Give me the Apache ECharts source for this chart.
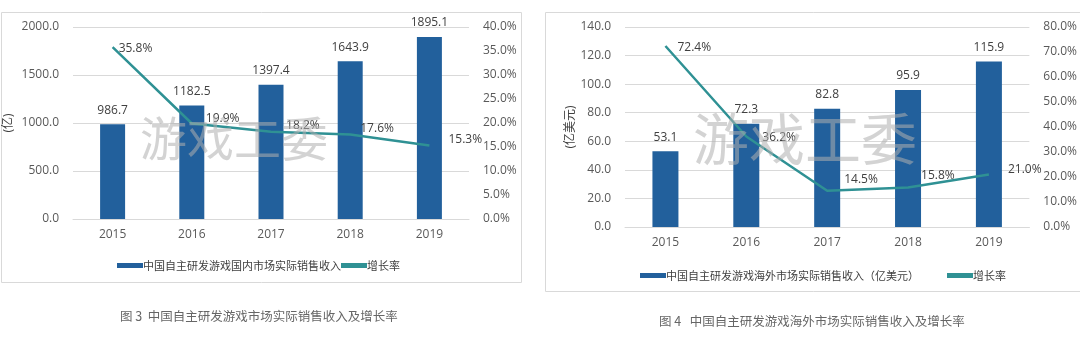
<!DOCTYPE html>
<html><head><meta charset="utf-8">
<script src="https://cdn.jsdelivr.net/npm/echarts@6/dist/echarts.min.js"></script>
<style>html,body{margin:0;padding:0;background:#fff}#c{width:1080px;height:340px}</style>
</head><body><div id="c"></div>
<script>
const categories = ['2015','2016','2017','2018','2019'];
const domesticRevenue = [986.7, 1182.5, 1397.4, 1643.9, 1895.1];
const domesticGrowth = [35.8, 19.9, 18.2, 17.6, 15.3];
const overseasRevenue = [53.1, 72.3, 82.8, 95.9, 115.9];
const overseasGrowth = [72.4, 36.2, 14.5, 15.8, 21.0];
const domesticBarName = '中国自主研发游戏国内市场实际销售收入';
const overseasBarName = '中国自主研发游戏海外市场实际销售收入（亿美元）';
const growthName = '增长率';
const caption3 = '图 3  中国自主研发游戏市场实际销售收入及增长率';
const caption4 = '图 4   中国自主研发游戏海外市场实际销售收入及增长率';
const watermark = '游戏工委';

const BAR = '#22609c', LINE = '#2f9194', TXT = '#404040', AX = '#595959';
const FONT = '"Open Sans","Noto Sans CJK SC",sans-serif';
const CJK = '"Noto Sans CJK SC",sans-serif';
const chart = echarts.init(document.getElementById('c'), null, {renderer:'canvas'});

function yAx(gridIndex, max, interval, fmt, pos, name, nameGap, showSplit){
  return {type:'value', gridIndex, min:0, max, interval, position:pos,
    name: name || '', nameLocation:'middle', nameGap: nameGap || 0, nameRotate: 90,
    nameTextStyle:{color:TXT, fontSize:12, fontFamily:FONT},
    axisLine:{show:false}, axisTick:{show:false},
    axisLabel:{color:AX, fontSize:12, fontFamily:FONT, formatter:fmt, margin:14},
    splitLine:{show:showSplit, lineStyle:{color:'#d9d9d9', width:1}}};
}
const leftFmt = v => v.toFixed(1);
const pctFmt = v => v.toFixed(1) + '%';
function lineSeries(name, xi, yi, data, offsets){
  return {name, type:'line', xAxisIndex:xi, yAxisIndex:yi, symbol:'circle', symbolSize:0.1, showSymbol:true,
    data: data.map((v,i)=>({value:v, label:{offset:offsets[i]}})),
    lineStyle:{color:LINE, width:2.5}, itemStyle:{color:LINE},
    label:{show:true, position:'right', distance:5, color:TXT, fontSize:12, fontFamily:FONT, formatter:p=>p.value.toFixed(1)+'%'}};
}

const option = {
  animation:false,
  textStyle:{fontFamily:FONT},
  grid:[
    {left:73, right:1080-469, top:27, bottom:340-219},
    {left:625, right:1080-1033, top:27, bottom:340-227}
  ],
  xAxis:[
    {type:'category', gridIndex:0, data:categories, axisLine:{lineStyle:{color:'#d9d9d9'}}, axisTick:{show:false},
     axisLabel:{color:AX, fontSize:12, fontFamily:FONT, margin:10}},
    {type:'category', gridIndex:1, data:categories, axisLine:{lineStyle:{color:'#d9d9d9'}}, axisTick:{show:false},
     axisLabel:{color:AX, fontSize:12, fontFamily:FONT, margin:10}}
  ],
  yAxis:[
    yAx(0, 2000, 500, leftFmt, 'left', '(亿)', 58, true),
    yAx(0, 40, 5, pctFmt, 'right', '', 0, false),
    yAx(1, 140, 20, leftFmt, 'left', '(亿美元)', 46, true),
    yAx(1, 80, 10, pctFmt, 'right', '', 0, false)
  ],
  legend:[
    {left:112, top:255, itemGap:0, itemWidth:26, itemHeight:5, icon:'rect',
     textStyle:{color:TXT, fontSize:11, fontFamily:CJK, padding:[0,0,0,-5]},
     data:[{name:domesticBarName, icon:'rect'}, {name:growthName+' ', icon:'rect', itemStyle:{color:LINE}}]},
    {left:635, top:265, itemGap:28, itemWidth:26, itemHeight:5, icon:'rect',
     textStyle:{color:TXT, fontSize:11, fontFamily:CJK, padding:[0,0,0,-5]},
     data:[{name:overseasBarName, icon:'rect'}, {name:growthName, icon:'rect', itemStyle:{color:LINE}}]}
  ],
  series:[
    {name:domesticBarName, type:'bar', xAxisIndex:0, yAxisIndex:0, data:domesticRevenue, barWidth:25,
     itemStyle:{color:BAR}, label:{show:true, position:'top', distance:8, color:TXT, fontSize:12, formatter:p=>p.value.toFixed(1)}},
    lineSeries(growthName+' ', 0, 1, domesticGrowth, [[1,1],[9,-5],[10,-6],[5,-6],[14,-6]]),
    {name:overseasBarName, type:'bar', xAxisIndex:1, yAxisIndex:2, data:overseasRevenue, barWidth:26,
     itemStyle:{color:BAR}, label:{show:true, position:'top', distance:8, color:TXT, fontSize:12, formatter:p=>p.value.toFixed(1)}},
    lineSeries(growthName, 1, 3, overseasGrowth, [[7,2],[11,1],[12,-11],[8,-12],[14,-5]])
  ],
  graphic:[
    {type:'rect', shape:{x:1.5, y:12.5, width:520, height:270}, style:{fill:'none', stroke:'#d9d9d9', lineWidth:1}, z:-1},
    {type:'rect', shape:{x:545.5, y:12.5, width:560, height:279}, style:{fill:'none', stroke:'#d9d9d9', lineWidth:1}, z:-1},
    {type:'text', left:140, top:115, z:100, style:{text:watermark, fontSize:47, fontFamily:CJK, fill:'rgba(175,175,175,0.55)'}},
    {type:'text', left:693, top:111, z:100, style:{text:watermark, fontSize:56, fontFamily:CJK, fill:'rgba(175,175,175,0.55)'}},
    {type:'text', left:120, top:310, style:{text:caption3, fontSize:12.5, fontFamily:CJK, fill:'#666'}},
    {type:'text', left:659, top:315, style:{text:caption4, fontSize:12.5, fontFamily:CJK, fill:'#666'}}
  ]
};
chart.setOption(option);
</script></body></html>
